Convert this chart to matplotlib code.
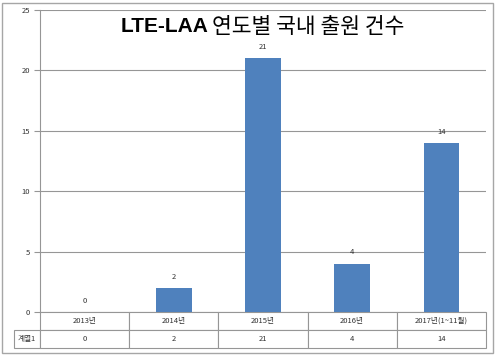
import matplotlib.pyplot as plt
import numpy as np
from matplotlib import patches

plt.rcParams['font.family'] = ['Noto Sans CJK KR', 'DejaVu Sans']

# data
years = ['2013년', '2014년', '2015년', '2016년', '2017년(1~11월)']
counts = [0, 2, 21, 4, 14]
series_name = '계열1'
title_en = 'LTE-LAA'
title_ko = '연도별 국내 출원 건수'

fig = plt.figure(figsize=(4.96, 3.55), dpi=100)
ax = fig.add_axes([40 / 496, 1 - 312 / 355, 446 / 496, 302 / 355])

x = np.arange(len(years))
bars = ax.bar(x, counts, width=0.4, color='#4F81BD', zorder=3)
for rect, v in zip(bars, counts):
    ax.text(rect.get_x() + rect.get_width() / 2, v + 0.6, str(v),
            ha='center', va='bottom', fontsize=5.5, color='#333333')

ax.set_xlim(-0.5, len(years) - 0.5)
ax.set_ylim(0, 25)
ax.set_yticks([0, 5, 10, 15, 20, 25])
ax.tick_params(axis='y', labelsize=5.5, colors='#969696', labelcolor='#333333',
               length=4, width=0.8, pad=3)
ax.set_xticks([])
ax.grid(axis='y', color='#969696', linewidth=0.8, zorder=0)
for s in ['top', 'right', 'bottom']:
    ax.spines[s].set_visible(False)
ax.spines['left'].set_color('#969696')
ax.spines['left'].set_linewidth(0.8)

# title: latin part bold, korean part regular
fig.text(208 / 496, 1 - 32 / 355, title_en, ha='right', va='baseline',
         fontsize=15, fontweight='bold', family=['Liberation Sans', 'DejaVu Sans'],
         color='#000000')
fig.text(212 / 496, 1 - 33 / 355, title_ko, ha='left', va='baseline',
         fontsize=15.5, family=['Noto Sans CJK KR', 'DejaVu Sans'], color='#000000')

# data table below the plot
label_w = 26 / 446
row_h = 18 / 302
cell_text = [[''] + years, [series_name] + [str(c) for c in counts]]
col_w = [label_w] + [1 / len(years)] * len(years)
tbl = ax.table(cellText=cell_text, colWidths=col_w, cellLoc='center',
               bbox=[-label_w, -2 * row_h, 1 + label_w, 2 * row_h])
tbl.auto_set_font_size(False)
for (r, c), cell in tbl.get_celld().items():
    cell.set_fontsize(5.5)
    cell.set_edgecolor('#969696')
    cell.set_linewidth(0.8)
    cell.get_text().set_color('#333333')
    if r == 0 and c == 0:
        cell.visible_edges = ''

# outer frame
fig.patches.append(patches.Rectangle((2 / 496, 2 / 355), 491 / 496, 350 / 355,
                                     transform=fig.transFigure, fill=False,
                                     edgecolor='#A6A6A6', linewidth=1))

fig.savefig('out.png', dpi=100)
